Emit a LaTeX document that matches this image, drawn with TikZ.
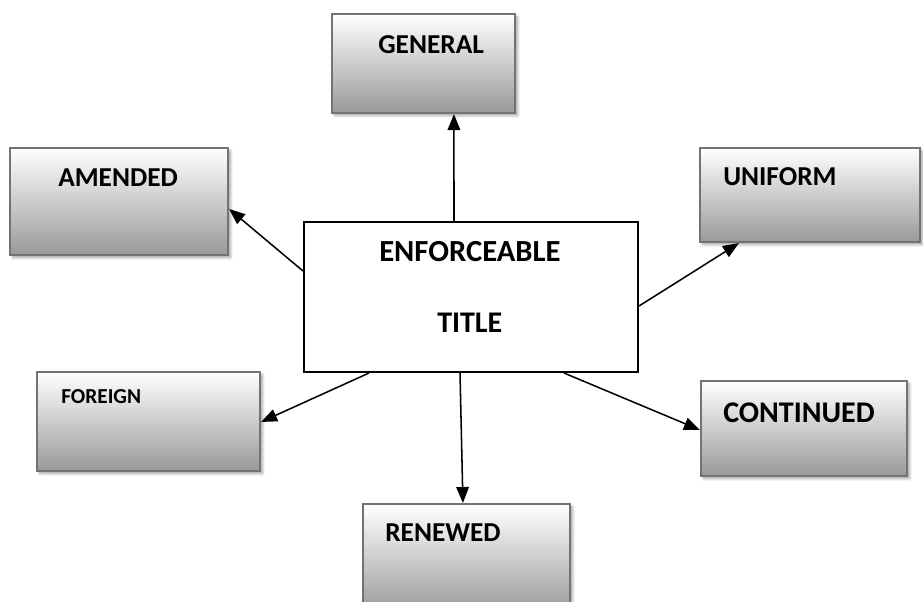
\documentclass[tikz,border=0pt]{standalone}
\usepackage{fontspec}
\setmainfont{Carlito}
\usetikzlibrary{calc,arrows.meta,shadows.blur}
\begin{document}
\begin{tikzpicture}[x=0.75pt,y=-0.75pt,
  gbox/.style={draw=black!55, line width=1.6pt, inner sep=0pt,
    top color=white, middle color=black!6, bottom color=black!40,
    blur shadow={shadow blur steps=6, shadow xshift=2pt, shadow yshift=-2pt, shadow opacity=35}},
  cbox/.style={draw=black, line width=1.5pt, fill=white, inner sep=0pt},
  lbl/.style={anchor=west, inner sep=0pt, font=\bfseries\fontsize{20.5}{24}\selectfont},
  arr/.style={-{Triangle[length=12pt,width=9.5pt]}, line width=1.15pt, black}]
\useasboundingbox (0,0) rectangle (923,601);
% boxes
\node[gbox, minimum width=183*0.75pt, minimum height=99*0.75pt] (gen) at (423.5,63.5) {};
\node[gbox, minimum width=218*0.75pt, minimum height=107*0.75pt] (ame) at (119,201.5) {};
\node[gbox, minimum width=220*0.75pt, minimum height=94*0.75pt] (uni) at (810,195) {};
\node[gbox, minimum width=223*0.75pt, minimum height=99*0.75pt] (for) at (148.5,421.5) {};
\node[gbox, minimum width=206*0.75pt, minimum height=95*0.75pt] (con) at (804,428.5) {};
\node[gbox, minimum width=207*0.75pt, minimum height=110*0.75pt] (ren) at (466.5,559) {};
\node[cbox, minimum width=334*0.75pt, minimum height=150*0.75pt] (c) at (471,297) {};
% labels
\node[lbl] (tgen) at (378,45) {GENERAL};
\node[lbl] (tame) at (58,178) {AMENDED};
\node[lbl] (tuni) at (723,177) {UNIFORM};
\node[lbl, font=\bfseries\fontsize{16}{19}\selectfont] (tfor) at (61,397) {FOREIGN};
\node[lbl, font=\bfseries\fontsize{22.5}{26}\selectfont] (tcon) at (723,413) {CONTINUED};
\node[lbl] (tren) at (385,533) {RENEWED};
\node[lbl, font=\bfseries\fontsize{23}{27}\selectfont] (tenf) at (379,252) {ENFORCEABLE};
\node[lbl, font=\bfseries\fontsize{22.5}{27}\selectfont] (ttit) at (437,323) {TITLE};
% connectors
\draw[arr] ($(c.north west)+(151,0)$) -- ($(gen.south west)+(123,0)$);
\draw[arr] ($(c.north west)+(0,50)$) -- ($(ame.north east)+(0,62)$);
\draw[arr] ($(c.north east)+(0,85)$) -- ($(uni.south west)+(40,0)$);
\draw[arr] ($(c.south west)+(66,0)$) -- ($(for.north east)+(0,51)$);
\draw[arr] ($(c.south west)+(157,0)$) -- ($(ren.north west)+(101,0)$);
\draw[arr] ($(c.south west)+(261,0)$) -- ($(con.north west)+(0,50)$);
\end{tikzpicture}
\end{document}
